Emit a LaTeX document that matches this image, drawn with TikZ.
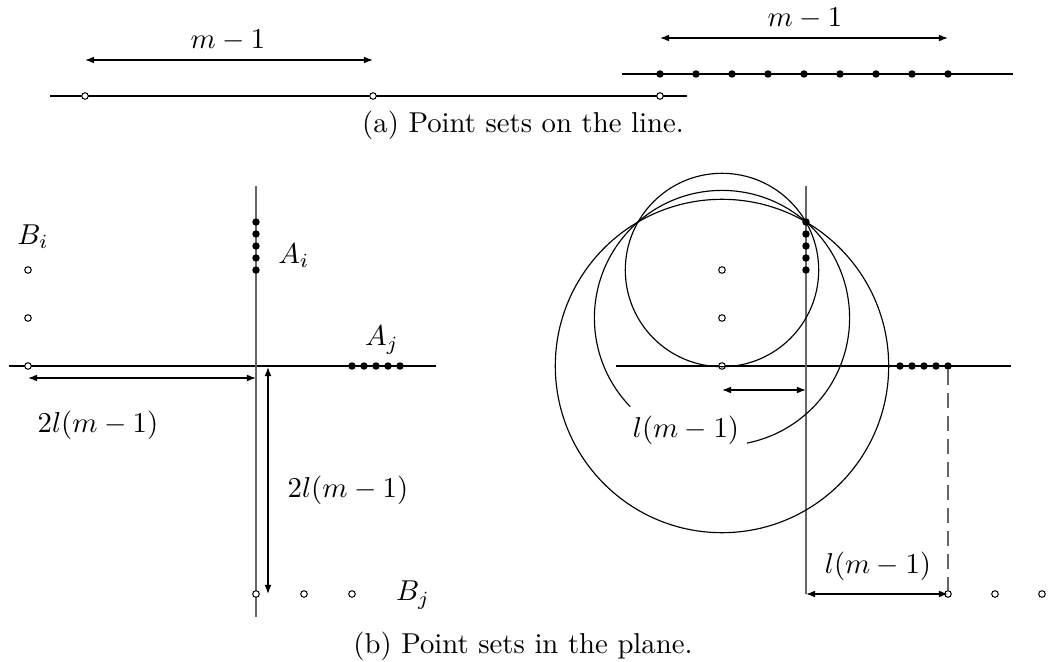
\documentclass[tikz,border=0pt]{standalone}
\usetikzlibrary{arrows.meta}
\begin{document}
\begin{tikzpicture}[x=0.348pt,y=-0.348pt,
  opt/.style={circle,draw,fill=white,inner sep=0pt,minimum size=2.3pt,line width=0.35pt},
  fpt/.style={circle,fill=black,inner sep=0pt,minimum size=2.6pt},
  axis/.style={line width=0.4pt},
  vaxis/.style={line width=0.55pt,draw=black!60},
  dim/.style={line width=0.4pt,{Latex[length=3.2pt,width=2.4pt]}-{Latex[length=3.2pt,width=2.4pt]}},
  lbl/.style={inner sep=0pt},
  circ/.style={line width=0.4pt}]
\useasboundingbox (0,0) rectangle (1049,662);
% ---------- (a) left line ----------
\coordinate (la0) at (50,96);
\coordinate (la1) at (687,96);
\draw[axis] (la0) -- (la1);
\node[opt] (p1) at (85,96) {};
\node[opt] (p2) at (373,96) {};
\node[opt] (p3) at (660,96) {};
\coordinate (d1) at (85,60);
\coordinate (d2) at (373,60);
\draw[dim] (d1) -- (d2);
\node[lbl] (m1) at (228,40) {$m-1$};
% ---------- (a) right line ----------
\coordinate (ra0) at (622,74);
\coordinate (ra1) at (1013,74);
\draw[axis] (ra0) -- (ra1);
\foreach \i in {0,...,8}{\node[fpt] (q\i) at ({660+36*\i},74) {};}
\coordinate (e1) at (660,38);
\coordinate (e2) at (948,38);
\draw[dim] (e1) -- (e2);
\node[lbl] (m2) at (805,18) {$m-1$};
\node[lbl] (capa) at (523,125) {(a) Point sets on the line.};
% ---------- (b) left plane ----------
\coordinate (h0) at (9,366);
\coordinate (h1) at (436,366);
\coordinate (v0) at (256,186);
\coordinate (v1) at (256,617);
\draw[axis] (h0) -- (h1);
\draw[vaxis] (v0) -- (v1);
\foreach \i in {0,...,4}{\node[fpt] (ai\i) at (256,{222+12*\i}) {};}
\foreach \i in {0,...,4}{\node[fpt] (aj\i) at ({352+12*\i},366) {};}
\node[opt] (bi0) at (28,366) {};
\node[opt] (bi1) at (28,318) {};
\node[opt] (bi2) at (28,270) {};
\node[opt] (bj0) at (256,594) {};
\node[opt] (bj1) at (304,594) {};
\node[opt] (bj2) at (352,594) {};
\node[lbl] (Bi) at (33,237) {$B_i$};
\node[lbl] (Ai) at (294,256) {$A_i$};
\node[lbl] (Aj) at (382,340) {$A_j$};
\node[lbl] (Bj) at (413,595) {$B_j$};
\coordinate (g1) at (28,378);
\coordinate (g2) at (256,378);
\draw[dim] (g1) -- (g2);
\node[lbl] (L1) at (98,425) {$2l(m-1)$};
\coordinate (k1) at (268,367);
\coordinate (k2) at (268,594);
\draw[dim] (k1) -- (k2);
\node[lbl] (L2) at (348,490) {$2l(m-1)$};
% ---------- (b) right plane ----------
\coordinate (H0) at (616,366);
\coordinate (H1) at (1011,366);
\coordinate (V0) at (806,186);
\coordinate (V1) at (806,594);
\draw[axis] (H0) -- (H1);
\draw[vaxis] (V0) -- (V1);
\node[opt] (c0) at (722,366) {};
\node[opt] (c1) at (722,318) {};
\node[opt] (c2) at (722,270) {};
\draw[circ] (c2) circle[radius=96.7];
\draw[circ] (722,318) ++(136:127.6) arc[start angle=136,end angle=438.7,radius=127.6];
\draw[circ] (c0) circle[radius=166.7];
\foreach \i in {0,...,4}{\node[fpt] (ri\i) at (806,{222+12*\i}) {};}
\foreach \i in {0,...,4}{\node[fpt] (rj\i) at ({900+12*\i},366) {};}
\node[opt] (s0) at (948,594) {};
\node[opt] (s1) at (995,594) {};
\node[opt] (s2) at (1042,594) {};
\draw[dashed,draw=black!60,line width=0.5pt,dash pattern=on 5pt off 3pt] (rj4) -- (s0);
\coordinate (n1) at (722,390);
\coordinate (n2) at (806,390);
\draw[dim] (n1) -- (n2);
\node[lbl] (L3) at (686,430) {$l(m-1)$};
\draw[dim] (V1) -- (s0.center);
\node[lbl] (L4) at (878,566) {$l(m-1)$};
\node[lbl] (capb) at (523,646) {(b) Point sets in the plane.};
\end{tikzpicture}
\end{document}
